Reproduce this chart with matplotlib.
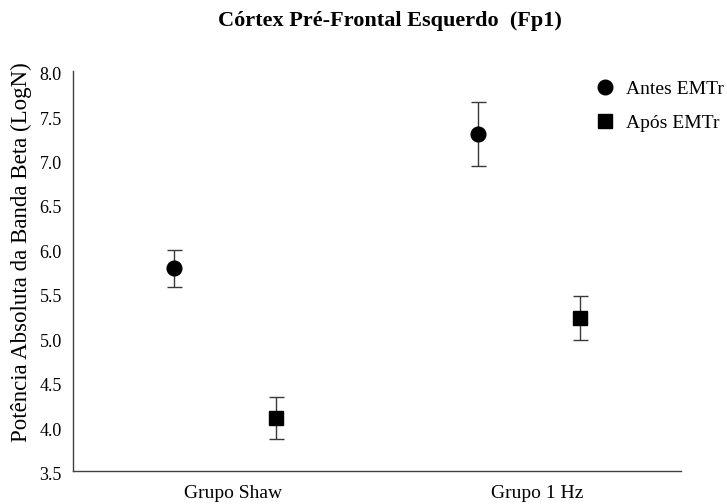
import matplotlib
matplotlib.use("Agg")
import matplotlib.pyplot as plt
from matplotlib.lines import Line2D
from matplotlib.transforms import ScaledTranslation

plt.rcParams['font.family'] = ['Liberation Serif', 'DejaVu Serif']

# Groups and measurements (mean ± error)
groups = ["Grupo Shaw", "Grupo 1 Hz"]
antes_mean = [5.78, 7.29]
antes_err = [0.205, 0.36]
apos_mean = [4.10, 5.22]
apos_err = [0.235, 0.245]
series_labels = ["Antes EMTr", "Após EMTr"]
yticks = [3.5, 4.0, 4.5, 5.0, 5.5, 6.0, 6.5, 7.0, 7.5, 8.0]

fig = plt.figure(figsize=(7.27, 5.04), dpi=100)
ax = fig.add_axes([0.1004, 0.0655, 0.8363, 0.7935])

offset = 0.168
x = list(range(len(groups)))
x_antes = [i - offset for i in x]
x_apos = [i + offset for i in x]

err_kw = dict(ecolor="#3a3a3a", elinewidth=1.0, capsize=5.4, capthick=1.0, linestyle="none")
ax.errorbar(x_antes, antes_mean, yerr=antes_err, fmt="o", color="black",
            markersize=10.6, **err_kw, zorder=3)
ax.errorbar(x_apos, apos_mean, yerr=apos_err, fmt="s", color="black",
            markersize=10.2, **err_kw, zorder=3)

ax.set_xlim(-0.5, 1.5)
ax.set_ylim(3.5, 8.0)
ax.set_yticks(yticks)
ax.set_yticklabels([f"{v:.1f}" for v in yticks], fontsize=13)
ax.set_xticks([i + 0.026 for i in x])
ax.set_xticklabels(groups, fontsize=14)
ax.tick_params(axis="both", length=0)
ax.tick_params(axis="y", pad=8)
ax.tick_params(axis="x", pad=10)

# value labels sit slightly below their gridline level
shift = ScaledTranslation(0, -2.5 / 100, fig.dpi_scale_trans)
for lab in ax.get_yticklabels():
    lab.set_transform(lab.get_transform() + shift)

for side in ("top", "right"):
    ax.spines[side].set_visible(False)
for side in ("left", "bottom"):
    ax.spines[side].set_color("#404040")
    ax.spines[side].set_linewidth(1.0)

ax.set_ylabel("Potência Absoluta da Banda Beta (LogN)", fontsize=16.5)
ax.yaxis.set_label_coords(-0.068, 0.548)

fig.text(0.536, 0.958, "Córtex Pré-Frontal Esquerdo  (Fp1)", ha="center", va="center",
         fontsize=16, fontweight="bold")

handles = [
    Line2D([], [], marker="o", color="black", linestyle="none", markersize=10.5),
    Line2D([], [], marker="s", color="black", linestyle="none", markersize=9.5),
]
fig.legend(handles, series_labels, loc="upper left", bbox_to_anchor=(0.808, 0.856),
           frameon=False, fontsize=14, handletextpad=0.6, labelspacing=0.86,
           handlelength=1.0, borderaxespad=0)

fig.savefig("out.png", dpi=100)
